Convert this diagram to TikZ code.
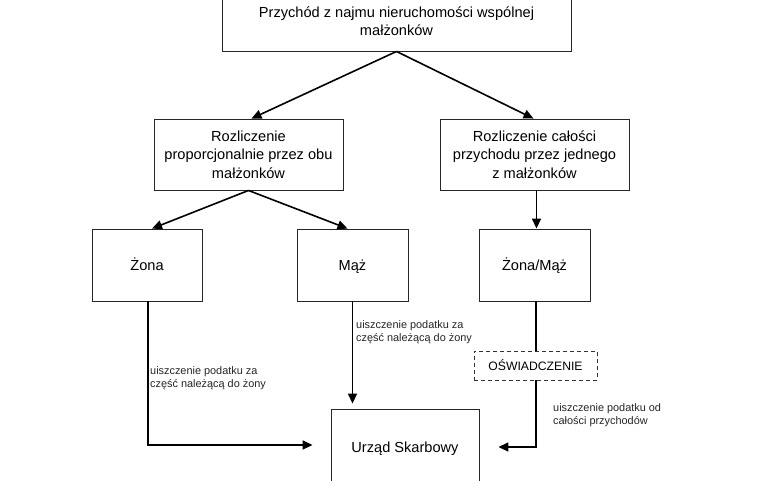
\documentclass[tikz,border=0pt]{standalone}
\usepackage{fontspec}
\setmainfont{Liberation Sans}
\usetikzlibrary{arrows.meta}
\begin{document}
\begin{tikzpicture}[x=1pt,y=-1pt,
  box/.style={draw=black!85,line width=0.9pt,inner sep=0pt,align=center,
    font=\fontsize{14.6}{18.5}\selectfont},
  oneline/.style={text height=12.5pt,text depth=1pt},
  dbox/.style={draw=black!80,line width=0.9pt,dash pattern=on 4pt off 3pt,inner sep=0pt,
    align=center,font=\fontsize{12.2}{15}\selectfont,text height=10.5pt,text depth=0.8pt},
  lbl/.style={anchor=west,inner sep=0pt,align=left,font=\fontsize{10.9}{13}\selectfont,text=black!85},
  arr/.style={line width=1.6pt,-{Triangle[length=10pt,width=9pt]}},
  ln/.style={line width=1.6pt}]
\useasboundingbox (0,0) rectangle (776,480);
\clip (0,0) rectangle (776,480);
\fill[white] (0,0) rectangle (776,480);

\node[box,minimum width=349pt,minimum height=60pt] (top) at (396.5,21)
  {Przychód z najmu nieruchomości wspólnej\\małżonków};
\node[box,minimum width=189pt,minimum height=71pt] (prop) at (248.5,154.5)
  {Rozliczenie\\proporcjonalnie przez obu\\małżonków};
\node[box,minimum width=189pt,minimum height=71pt] (cal) at (534.5,154.5)
  {Rozliczenie całości\\przychodu przez jednego\\z małżonków};
\node[box,oneline,minimum width=110pt,minimum height=72pt] (zona) at (147,265)
  {Żona};
\node[box,oneline,minimum width=111pt,minimum height=72pt] (maz) at (352.5,265)
  {Mąż};
\node[box,oneline,minimum width=111pt,minimum height=72pt] (zm) at (534.5,265)
  {Żona/Mąż};
\node[dbox,minimum width=123pt,minimum height=29pt] (osw) at (535.5,365.5)
  {OŚWIADCZENIE};
\node[box,oneline,minimum width=148pt,minimum height=76pt] (us) at (405,447)
  {Urząd Skarbowy};

\draw[arr] (top.south) -- ([xshift=3pt]prop.north);
\draw[arr] (top.south) -- ([xshift=-1pt]cal.north);
\draw[arr] (prop.south) -- ([xshift=5pt]zona.north);
\draw[arr] (prop.south) -- ([xshift=-5pt]maz.north);
\draw[arr] ([xshift=2pt]cal.south) -- ([xshift=2pt]zm.north);

\draw[arr,shorten >=18pt] ([xshift=1pt]zona.south) |- ([yshift=2pt]us.west);
\draw[arr,shorten >=5pt] (maz.south) -- ([xshift=-52.5pt]us.north);
\draw[ln] ([xshift=1.5pt]zm.south) -- ([xshift=0.5pt]osw.north);
\draw[arr,shorten >=19pt] ([xshift=0.5pt]osw.south) |- (us.east);

\node[lbl] (l1) at (356,332.5) {uiszczenie podatku za\\część należącą do żony};
\node[lbl] (l2) at (150,378.5) {uiszczenie podatku za\\część należącą do żony};
\node[lbl] (l3) at (553,415) {uiszczenie podatku od\\całości przychodów};
\end{tikzpicture}
\end{document}
